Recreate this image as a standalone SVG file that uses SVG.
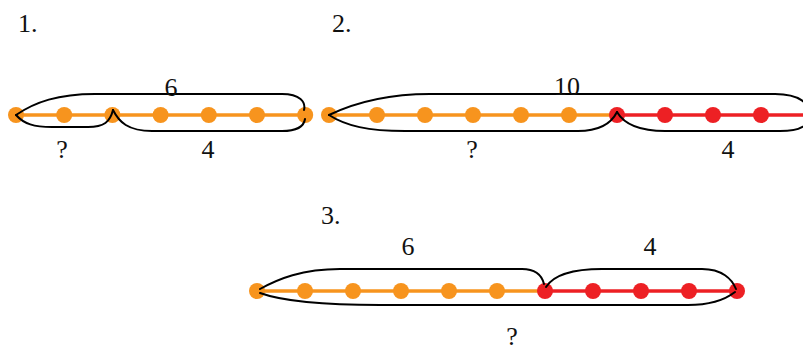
<svg xmlns="http://www.w3.org/2000/svg" width="803" height="350" viewBox="0 0 803 350">
<style>
.t{font-family:'Liberation Serif','Times New Roman',Times,serif;font-size:26px;fill:#111}
.m{text-anchor:middle}
.o{fill:#F7941E}
.r{fill:#ED2024}
.lo{stroke:#F7941E;stroke-width:3.5;fill:none}
.lr{stroke:#ED2024;stroke-width:3.5;fill:none}
.b{stroke:#000;stroke-width:2;fill:none;stroke-linecap:round;stroke-linejoin:round}
</style>
<rect width="803" height="350" fill="#fff"/>

<g id="diagram1">
<text class="t" x="18" y="32" font-family="Liberation Serif, serif">1.</text>
<line class="lo" x1="16" y1="115" x2="305" y2="115"/>
<g id="d1-dots">
<circle class="o" cx="16" cy="115" r="8"/>
<circle class="o" cx="64.2" cy="115" r="8"/>
<circle class="o" cx="112.4" cy="115" r="8"/>
<circle class="o" cx="160.6" cy="115" r="8"/>
<circle class="o" cx="208.8" cy="115" r="8"/>
<circle class="o" cx="257" cy="115" r="8"/>
<circle class="o" cx="305.2" cy="115" r="8"/>
</g>
</g>

<g id="diagram2">
<text class="t" x="332" y="32" font-family="Liberation Serif, serif">2.</text>
<line class="lo" x1="329" y1="115" x2="617" y2="115"/>
<line class="lr" x1="617" y1="115" x2="803" y2="115"/>
<g id="d2-dots">
<circle class="o" cx="329" cy="115" r="8"/>
<circle class="o" cx="377" cy="115" r="8"/>
<circle class="o" cx="425" cy="115" r="8"/>
<circle class="o" cx="473" cy="115" r="8"/>
<circle class="o" cx="521" cy="115" r="8"/>
<circle class="o" cx="569" cy="115" r="8"/>
<circle class="r" cx="617" cy="115" r="8"/>
<circle class="r" cx="665" cy="115" r="8"/>
<circle class="r" cx="713" cy="115" r="8"/>
<circle class="r" cx="761" cy="115" r="8"/>
</g>
</g>

<g id="diagram3">
<text class="t" x="321" y="224" font-family="Liberation Serif, serif">3.</text>
<line class="lo" x1="257" y1="291" x2="545" y2="291"/>
<line class="lr" x1="545" y1="291" x2="737" y2="291"/>
<g id="d3-dots">
<circle class="o" cx="257" cy="291" r="8"/>
<circle class="o" cx="305" cy="291" r="8"/>
<circle class="o" cx="353" cy="291" r="8"/>
<circle class="o" cx="401" cy="291" r="8"/>
<circle class="o" cx="449" cy="291" r="8"/>
<circle class="o" cx="497" cy="291" r="8"/>
<circle class="r" cx="545" cy="291" r="8"/>
<circle class="r" cx="593" cy="291" r="8"/>
<circle class="r" cx="641" cy="291" r="8"/>
<circle class="r" cx="689" cy="291" r="8"/>
<circle class="r" cx="737" cy="291" r="8"/>
</g>
</g>

<g id="connectors">
<path class="b" d="M16,115 C35,102 58,94 95,94 L282,94 C300,94 306,102 304,110"/>
<path class="b" d="M16,115 C24,124 34,127 52,127 L88,127 C104,127 110,122 113,110"/>
<path class="b" d="M113,110 C119,122 128,131 152,131 L282,131 C297,131 304,126 305,119"/>

<path class="b" d="M329,115 C352,104 385,94 430,94 L775,94 C800,94 810,104 810,115"/>
<path class="b" d="M329,115 C346,126 368,131 405,131 L578,131 C600,131 611,124 617,112"/>
<path class="b" d="M617,112 C624,124 640,131 665,131 L780,131 C800,131 808,125 810,118"/>

<path class="b" d="M260,289 C278,279 302,269 340,269 L522,269 C536,269 542,276 544,284"/>
<path class="b" d="M546,287 C553,276 570,269 602,269 L702,269 C722,269 732,279 736,289"/>
<path class="b" d="M260,293 C282,301 318,305 380,305 L688,305 C712,305 726,299 735,292"/>
</g>

<g id="labels" font-family="Liberation Serif, serif">
<text class="t m" x="171" y="96">6</text>
<text class="t m" x="62" y="158">?</text>
<text class="t m" x="208" y="158">4</text>
<text class="t m" x="567" y="95">10</text>
<text class="t m" x="472" y="158">?</text>
<text class="t m" x="728" y="158">4</text>
<text class="t m" x="408" y="255">6</text>
<text class="t m" x="650" y="255">4</text>
<text class="t m" x="512" y="345">?</text>
</g>
</svg>
